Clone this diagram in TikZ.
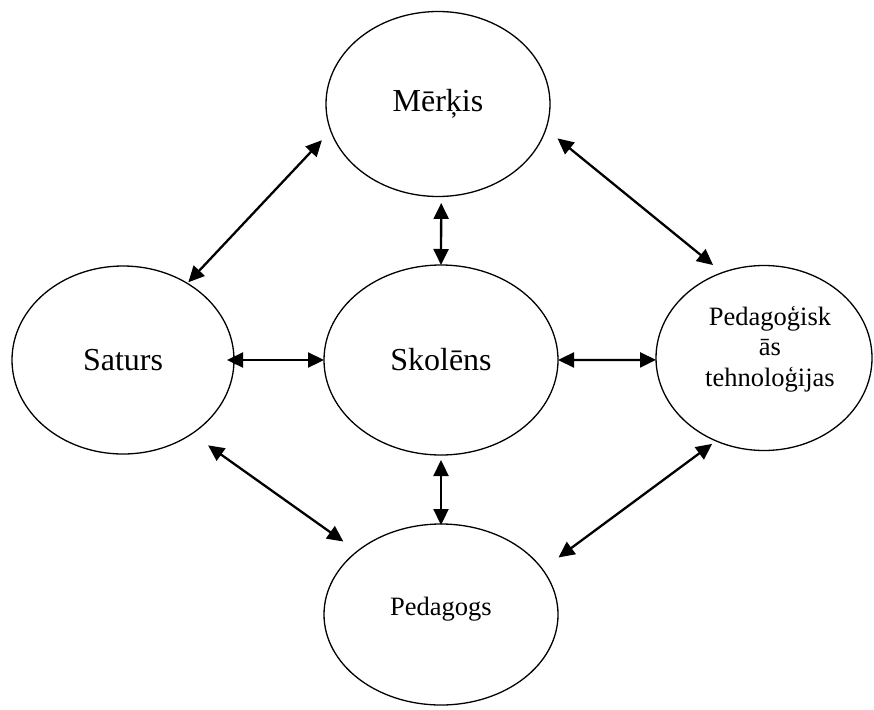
\documentclass[tikz,border=0pt]{standalone}
\usepackage{fontspec}
\setmainfont{Liberation Serif}
\usetikzlibrary{arrows.meta, shapes.geometric}
\newcommand{\BigF}{\fontsize{32}{36}\selectfont}
\newcommand{\SmallF}{\fontsize{26.5}{30.5}\selectfont}

\tikzset{
  blob/.style={ellipse, draw, line width=1.3pt, inner sep=0pt, outer sep=0pt},
  link/.style={{Triangle[length=16pt,width=15pt]}-{Triangle[length=16pt,width=15pt]}, line width=2.3pt},
}

\begin{document}
\begin{tikzpicture}[x=1pt, y=-1pt]
  \useasboundingbox (0,0) rectangle (874,709);
  % ellipses
  \node[blob, minimum width=224pt, minimum height=185pt, font=\BigF] (merkis) at (438,104) {Mērķis};
  \node[blob, minimum width=222pt, minimum height=188pt, font=\BigF] (saturs) at (123,360) {Saturs};
  \node[blob, minimum width=234pt, minimum height=190pt, font=\BigF] (skolens) at (441,360) {Skolēns};
  \node[blob, minimum width=216pt, minimum height=185pt, font=\SmallF, text depth=87pt] (tech) at (764,358)
    {\begin{tabular}[t]{@{\hspace{12pt}}c@{}}Pedagoģisk\\ās\\tehnoloģijas\end{tabular}};
  \node[blob, minimum width=234pt, minimum height=181pt, font=\SmallF, text height=18pt, text depth=17pt] (pedagogs) at (441,614.5) {Pedagogs};
  % arrows
  \draw[link, shorten <=13pt, shorten >=1.5pt] (merkis.194) -- (saturs.50);
  \draw[link, shorten <=15pt, shorten >=12pt] (merkis.-13) -- (tech.116);
  \draw[link, shorten <=6.5pt] (merkis.-88) -- (skolens.north);
  \draw[link, shorten <=-7pt] (saturs.east) -- (skolens.west);
  \draw[link] (skolens.east) -- (tech.181);
  \draw[link, shorten <=5pt, shorten >=-1pt] (skolens.south) -- (pedagogs.north);
  \draw[link, shorten <=20pt, shorten >=17pt] (saturs.-47) -- (pedagogs.143);
  \draw[link, shorten <=5pt, shorten >=20pt] (tech.240) -- (pedagogs.24);
\end{tikzpicture}
\end{document}
